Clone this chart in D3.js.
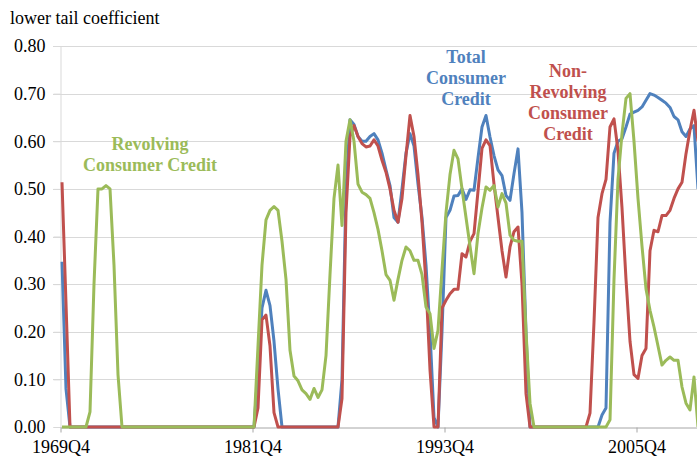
<!DOCTYPE html>
<html>
<head>
<meta charset="utf-8">
<script src="https://cdn.jsdelivr.net/npm/d3@7"></script>
</head>
<body style="margin:0">
<svg width="697" height="460"></svg>
<script>
// quarterly series, first value = 1969Q4
const startYear = 1969, startQuarter = 4;

const total = [
  0.347, 0.08, 0, 0, 0, 0, 0, 0, 0, 0,
  0, 0, 0, 0, 0, 0, 0, 0, 0, 0,
  0, 0, 0, 0, 0, 0, 0, 0, 0, 0,
  0, 0, 0, 0, 0, 0, 0, 0, 0, 0,
  0, 0, 0, 0, 0, 0, 0, 0, 0, 0.12,
  0.25, 0.287, 0.255, 0.18, 0.08, 0, 0, 0, 0, 0,
  0, 0, 0, 0, 0, 0, 0, 0, 0, 0,
  0.1, 0.5, 0.645, 0.635, 0.61, 0.60, 0.60, 0.61, 0.616, 0.603,
  0.575, 0.54, 0.507, 0.44, 0.43, 0.50, 0.575, 0.616, 0.59, 0.51,
  0.44, 0.34, 0.2, 0.02, 0, 0.2, 0.44, 0.455, 0.485, 0.486,
  0.50, 0.478, 0.498, 0.497, 0.565, 0.63, 0.654, 0.609, 0.57, 0.54,
  0.528, 0.486, 0.476, 0.532, 0.584, 0.45, 0.2, 0, 0, 0,
  0, 0, 0, 0, 0, 0, 0, 0, 0, 0,
  0, 0, 0, 0, 0, 0.025, 0.04, 0.43, 0.575, 0.6,
  0.605, 0.63, 0.657, 0.661, 0.665, 0.672, 0.686, 0.70, 0.697, 0.692,
  0.686, 0.68, 0.671, 0.652, 0.645, 0.62, 0.61, 0.626, 0.633, 0.5
];

const nonRevolving = [
  0.514, 0.26, 0, 0, 0, 0, 0, 0, 0, 0,
  0, 0, 0, 0, 0, 0, 0, 0, 0, 0,
  0, 0, 0, 0, 0, 0, 0, 0, 0, 0,
  0, 0, 0, 0, 0, 0, 0, 0, 0, 0,
  0, 0, 0, 0, 0, 0, 0, 0, 0, 0.04,
  0.225, 0.235, 0.17, 0.03, 0, 0, 0, 0, 0, 0,
  0, 0, 0, 0, 0, 0, 0, 0, 0, 0,
  0.06, 0.45, 0.61, 0.633, 0.61, 0.595, 0.588, 0.59, 0.603, 0.59,
  0.56, 0.535, 0.50, 0.455, 0.43, 0.48, 0.57, 0.654, 0.61, 0.53,
  0.43, 0.3, 0.12, 0, 0, 0.25, 0.266, 0.28, 0.289, 0.289,
  0.364, 0.357, 0.39, 0.406, 0.495, 0.585, 0.603, 0.591, 0.51, 0.44,
  0.37, 0.315, 0.378, 0.41, 0.42, 0.3, 0.07, 0, 0, 0,
  0, 0, 0, 0, 0, 0, 0, 0, 0, 0,
  0, 0, 0.029, 0.22, 0.44, 0.49, 0.52, 0.63, 0.647, 0.58,
  0.46, 0.31, 0.18, 0.11, 0.102, 0.15, 0.165, 0.37, 0.413, 0.41,
  0.444, 0.444, 0.455, 0.48, 0.50, 0.514, 0.574, 0.623, 0.665, 0.6
];

const revolving = [
  0, 0, 0, 0, 0, 0, 0, 0.032, 0.3, 0.5,
  0.50, 0.507, 0.50, 0.34, 0.11, 0, 0, 0, 0, 0,
  0, 0, 0, 0, 0, 0, 0, 0, 0, 0,
  0, 0, 0, 0, 0, 0, 0, 0, 0, 0,
  0, 0, 0, 0, 0, 0, 0, 0, 0, 0.17,
  0.34, 0.435, 0.455, 0.463, 0.455, 0.39, 0.31, 0.161, 0.107, 0.097,
  0.078, 0.07, 0.058, 0.081, 0.062, 0.078, 0.15, 0.32, 0.48, 0.55,
  0.423, 0.6, 0.645, 0.6, 0.51, 0.493, 0.488, 0.48, 0.45, 0.415,
  0.37, 0.32, 0.308, 0.266, 0.31, 0.35, 0.378, 0.37, 0.35, 0.35,
  0.32, 0.252, 0.238, 0.165, 0.203, 0.33, 0.45, 0.53, 0.581, 0.563,
  0.5, 0.44, 0.38, 0.322, 0.406, 0.46, 0.504, 0.497, 0.507, 0.462,
  0.49, 0.47, 0.403, 0.392, 0.39, 0.39, 0.2, 0.05, 0, 0,
  0, 0, 0, 0, 0, 0, 0, 0, 0, 0,
  0, 0, 0, 0, 0, 0, 0, 0.015, 0.31, 0.52,
  0.616, 0.69, 0.70, 0.6, 0.48, 0.38, 0.29, 0.245, 0.21, 0.17,
  0.13, 0.14, 0.147, 0.14, 0.14, 0.084, 0.05, 0.036, 0.105, 0
];

const xTickLabels = ["1969Q4", "1981Q4", "1993Q4", "2005Q4"];
const yTicks = [0, 0.1, 0.2, 0.3, 0.4, 0.5, 0.6, 0.7, 0.8];

const quarters = total.map((_, i) => {
  const q = startQuarter - 1 + i;
  return (startYear + Math.floor(q / 4)) + "Q" + (q % 4 + 1);
});

const series = [
  { name: "Total Consumer Credit", values: total, color: "#4F81BD",
    label: ["Total", "Consumer", "Credit"], at: [101, 0.764] },
  { name: "Non-Revolving Consumer Credit", values: nonRevolving, color: "#C0504D",
    label: ["Non-", "Revolving", "Consumer", "Credit"], at: [126.5, 0.7355] },
  { name: "Revolving Consumer Credit", values: revolving, color: "#9BBB59",
    label: ["Revolving", "Consumer Credit"], at: [22, 0.5816] }
];

const FONT = "Times New Roman";
const svg = d3.select("svg");
const plotLeft = 60, plotRight = 700, plotTop = 46, plotBottom = 427;

// categories sit between tick marks, 4px per quarter
const x = d3.scaleLinear().domain([-0.5, 159.5]).range([plotLeft, plotRight]);
const y = d3.scaleLinear().domain([0, 0.8]).range([plotBottom, plotTop]);

// gridlines
svg.append("g")
  .selectAll("line")
  .data(yTicks.slice(1))
  .join("line")
  .attr("x1", plotLeft - 7).attr("x2", 697)
  .attr("y1", d => Math.round(y(d)) + 0.5).attr("y2", d => Math.round(y(d)) + 0.5)
  .attr("stroke", "#d9d9d9");

// y axis
const yAxis = svg.append("g")
  .attr("transform", `translate(${plotLeft + 0.5},0)`)
  .call(d3.axisLeft(y).tickValues(yTicks).tickFormat(d3.format(".2f")).tickSize(7).tickPadding(8));
yAxis.attr("font-family", FONT).attr("font-size", "18px");
yAxis.select(".domain").attr("stroke", "#d9d9d9");
yAxis.selectAll(".tick line").attr("stroke", "#d9d9d9");
yAxis.selectAll(".tick text").attr("fill", "#000")
  .style("font-family", FONT).style("font-size", "18px");

// x axis
const tickIdx = xTickLabels.map(t => quarters.indexOf(t) - 0.5);
const xAxis = svg.append("g")
  .attr("transform", `translate(0.5,${plotBottom + 0.5})`)
  .call(d3.axisBottom(x).tickValues(tickIdx)
    .tickFormat(d => quarters[d + 0.5]).tickSize(5).tickSizeOuter(0).tickPadding(8));
xAxis.attr("font-family", FONT).attr("font-size", "18px");
xAxis.select(".domain").attr("stroke", "#a6a6a6");
xAxis.selectAll(".tick line").attr("stroke", "#a6a6a6");
xAxis.selectAll(".tick text").attr("fill", "#000")
  .style("font-family", FONT).style("font-size", "18px");

// y title
svg.append("text")
  .attr("x", 10).attr("y", 24)
  .style("font-family", FONT)
  .style("font-size", "18px")
  .text("lower tail coefficient");

// lines
const line = d3.line()
  .x((d, i) => x(i))
  .y(d => y(d));

svg.append("g")
  .selectAll("path")
  .data(series)
  .join("path")
  .attr("fill", "none")
  .attr("stroke", d => d.color)
  .attr("stroke-width", 3)
  .attr("stroke-linejoin", "round")
  .attr("d", d => line(d.values));

// series labels
series.forEach(s => {
  const t = svg.append("text")
    .attr("text-anchor", "middle")
    .style("font-family", FONT)
    .style("font-size", "18px")
    .style("font-weight", "bold")
    .attr("fill", s.color);
  s.label.forEach((ln, k) => {
    t.append("tspan")
      .attr("x", x(s.at[0]))
      .attr("y", y(s.at[1]) + k * 21)
      .text(ln);
  });
});
</script>
</body>
</html>
